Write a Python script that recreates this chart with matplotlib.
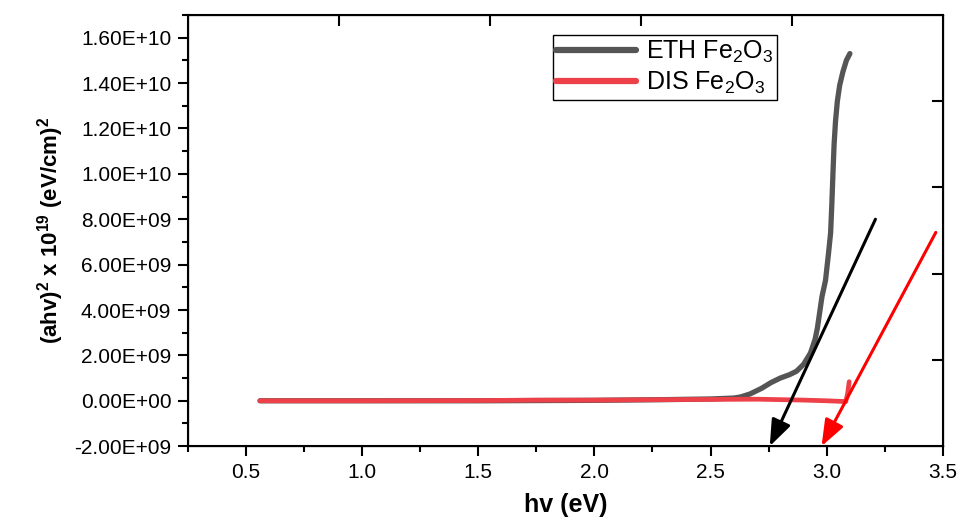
import numpy as np
import matplotlib
matplotlib.use("Agg")
import matplotlib.pyplot as plt
from matplotlib.ticker import MultipleLocator, FuncFormatter

plt.rcParams['font.family'] = ['Liberation Sans', 'DejaVu Sans']
plt.rcParams['mathtext.fontset'] = 'custom'
plt.rcParams['mathtext.rm'] = 'Liberation Sans'
plt.rcParams['mathtext.bf'] = 'Liberation Sans:bold'
plt.rcParams['mathtext.it'] = 'Liberation Sans:italic'

# ETH Fe2O3 curve (hv in eV, value in units of 1e9)
eth_x = [0.56, 1.0, 1.5, 2.0, 2.3, 2.5, 2.6, 2.63, 2.67, 2.72, 2.76, 2.80, 2.84,
         2.87, 2.90, 2.93, 2.95, 2.96, 2.97, 2.98, 2.995, 3.008, 3.017, 3.022,
         3.027, 3.032, 3.038, 3.046, 3.056, 3.07, 3.085, 3.10]
eth_y = [0.0, 0.0, 0.0, 0.02, 0.05, 0.08, 0.12, 0.17, 0.3, 0.55, 0.8, 1.0, 1.15,
         1.3, 1.6, 2.1, 2.7, 3.2, 3.9, 4.6, 5.3, 6.5, 7.4, 8.6,
         10.0, 11.3, 12.3, 13.2, 13.9, 14.5, 15.0, 15.3]

# DIS Fe2O3 curve
dis_x = [0.56, 1.0, 1.5, 1.75, 2.0, 2.3, 2.5, 2.7, 2.8, 2.9, 3.0, 3.07, 3.082, 3.09, 3.097]
dis_y = [0.0, 0.0, 0.01, 0.03, 0.03, 0.05, 0.06, 0.07, 0.05, 0.03, 0.0, -0.03, -0.04, 0.3, 0.84]

# extrapolation arrows: (start x, start y) -> (tip x, tip y), y in 1e9
black_arrow = [(3.21, 8.0), (2.755, -2.0)]
red_arrow = [(3.47, 7.42), (2.978, -2.0)]

eth_y = np.array(eth_y) * 1e9
dis_y = np.array(dis_y) * 1e9

fig = plt.figure(figsize=(9.64, 5.17), dpi=100)
ax = fig.add_axes([0.195, 0.137, 0.783, 0.834])

ax.plot(eth_x, eth_y, color='#555555', lw=3.8, solid_capstyle='round', label='ETH Fe$_2$O$_3$')
ax.plot(dis_x, dis_y, color='#EE4048', lw=3.4, solid_capstyle='round', label='DIS Fe$_2$O$_3$')

for arr, col in [(black_arrow, 'black'), (red_arrow, '#FF0000')]:
    (x0, y0), (x1, y1) = arr
    ax.annotate('', xy=(x1, y1 * 1e9), xytext=(x0, y0 * 1e9),
                arrowprops=dict(arrowstyle='-|>,head_length=1.0,head_width=0.38',
                                color=col, lw=2.2, mutation_scale=16,
                                shrinkA=0, shrinkB=0))

ax.set_xlim(0.25, 3.5)
ax.set_ylim(-2e9, 1.7e10)
ax.xaxis.set_major_locator(MultipleLocator(0.5))
ax.xaxis.set_minor_locator(MultipleLocator(0.25))
ax.yaxis.set_major_locator(MultipleLocator(2e9))
ax.yaxis.set_minor_locator(MultipleLocator(1e9))
ax.yaxis.set_major_formatter(FuncFormatter(lambda v, p: '%.2E' % v))
ax.xaxis.set_major_formatter(FuncFormatter(lambda v, p: '%.1f' % v))

ax.tick_params(which='major', direction='out', length=7, width=1.5, labelsize=15, pad=5)
ax.tick_params(which='minor', direction='out', length=4, width=1.5)
for s in ax.spines.values():
    s.set_linewidth(1.5)

ax.set_xlabel('hv (eV)', fontsize=18, fontweight='bold', labelpad=8)
ax.set_ylabel(r'(ahv)$^{\mathbf{2}}$ x 10$^{\mathbf{19}}$ (eV/cm)$^{\mathbf{2}}$',
              fontsize=16, fontweight='bold', labelpad=6)

leg = ax.legend(loc='upper left', bbox_to_anchor=(0.483, 0.954), borderaxespad=0,
                fontsize=18, handlelength=3.2, handletextpad=0.4, borderpad=0.15,
                labelspacing=0.2, fancybox=False, framealpha=1, edgecolor='black')
leg.get_frame().set_linewidth(1.0)
for h in leg.get_lines():
    h.set_linewidth(4.5)

# opposite axes: ticks only, pointing inward
axr = ax.twinx()
axr.set_ylim(0, 1)
axr.set_yticks([0.2, 0.4, 0.6, 0.8])
axr.tick_params(direction='in', length=8, width=1.5, labelright=False)
axt = ax.twiny()
axt.set_xlim(0, 1)
axt.set_xticks([0.2, 0.4, 0.6, 0.8])
axt.tick_params(direction='in', length=8, width=1.5, labeltop=False)

fig.savefig('out.png', dpi=100)
